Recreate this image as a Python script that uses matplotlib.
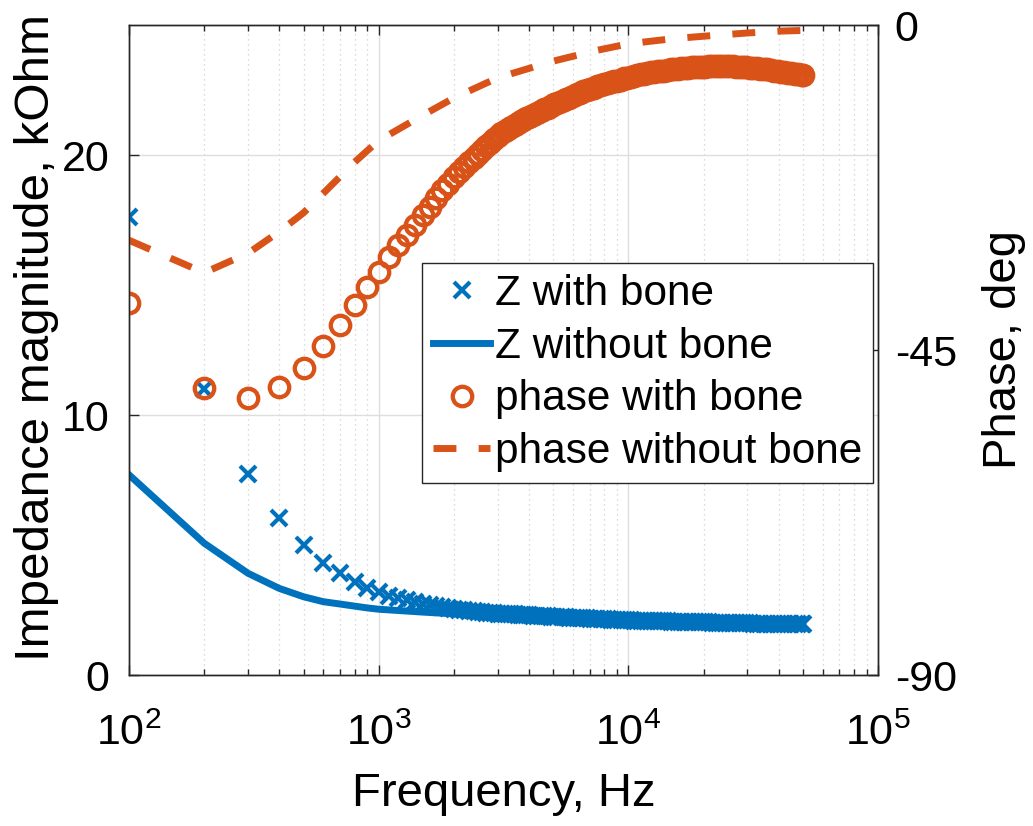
import numpy as np
import matplotlib
matplotlib.use('Agg')
import matplotlib.pyplot as plt
from matplotlib.ticker import LogLocator, NullFormatter

plt.rcParams['font.family'] = ['Liberation Sans', 'DejaVu Sans']
plt.rcParams['mathtext.fontset'] = 'custom'
plt.rcParams['mathtext.rm'] = 'Liberation Sans'
plt.rcParams['axes.unicode_minus'] = False

# measured sweep, with bone (markers)
freq_bone = [100, 200, 300, 400, 500, 600, 700, 800, 900, 1000,
             1100, 1200, 1300, 1400, 1500, 1600, 1700, 1800, 1900, 2000,
             2100, 2200, 2300, 2400, 2500, 2600, 2700, 2800, 2900,
             3000, 3100, 3200, 3300, 3400, 3500, 3600, 3700, 3800, 3900, 4000,
             4150, 4300, 4450, 4600, 4750, 4900,
             5050, 5200, 5400, 5600, 5800,
             6000, 6200, 6400, 6600, 6800, 7000,
             7250, 7500, 7750, 8000, 8250, 8500, 8750, 9000,
             9300, 9600, 9900,
             10200, 10500, 10850, 11200, 11550, 11900,
             12300, 12700, 13100, 13500, 13950, 14400, 14850, 15300,
             15800, 16300, 16800, 17350, 17900, 18500, 19100, 19700,
             20300, 21000, 21700, 22400, 23100, 23800, 24600, 25400,
             26200, 27000, 27900, 28800, 29700,
             30700, 31700, 32700, 33800, 34900, 36000,
             37200, 38400, 39600, 40900, 42200, 43600, 45000, 46500, 48000, 49500, 50000]
z_bone = [17.6, 11.0, 7.73, 6.04, 5.0, 4.3, 3.92, 3.58, 3.35, 3.18,
          3.05, 2.95, 2.87, 2.80, 2.74, 2.69, 2.65, 2.61, 2.57, 2.54,
          2.51, 2.49, 2.47, 2.45, 2.43, 2.41, 2.40, 2.39, 2.37,
          2.36, 2.355, 2.35, 2.34, 2.335, 2.33, 2.32, 2.315, 2.31, 2.30, 2.29,
          2.285, 2.28, 2.27, 2.26, 2.255, 2.25,
          2.24, 2.235, 2.23, 2.22, 2.21,
          2.20, 2.195, 2.19, 2.18, 2.175, 2.17,
          2.16, 2.15, 2.145, 2.14, 2.135, 2.13, 2.125, 2.12,
          2.115, 2.11, 2.10,
          2.10, 2.09, 2.09, 2.085, 2.08, 2.08,
          2.075, 2.07, 2.07, 2.065, 2.06, 2.06, 2.055, 2.05,
          2.05, 2.045, 2.04, 2.04, 2.035, 2.03, 2.03, 2.025,
          2.02, 2.02, 2.015, 2.01, 2.01, 2.005, 2.0, 2.0,
          2.0, 1.995, 1.99, 1.99, 1.99,
          1.985, 1.98, 1.98, 1.98, 1.975, 1.97,
          1.97, 1.97, 1.965, 1.96, 1.96, 1.96, 1.955, 1.955, 1.95, 1.95, 1.95]
phase_bone = [-38.5, -50.2, -51.7, -50.1, -47.5, -44.5, -41.5, -38.8, -36.3, -34.2,
              -32.1, -30.5, -29.1, -27.7, -26.3, -25.2, -24.0, -22.9, -22.0, -21.1,
              -20.4, -19.7, -19.0, -18.4, -17.8, -17.3, -16.8, -16.3, -15.8,
              -15.3, -15.0, -14.7, -14.4, -14.15, -13.9, -13.6, -13.35, -13.1, -12.9, -12.7,
              -12.4, -12.15, -11.9, -11.65, -11.45, -11.2,
              -11.0, -10.8, -10.55, -10.3, -10.05,
              -9.8, -9.6, -9.4, -9.2, -9.05, -8.9,
              -8.7, -8.5, -8.35, -8.2, -8.05, -7.9, -7.8, -7.7,
              -7.55, -7.4, -7.3,
              -7.15, -7.05, -6.95, -6.85, -6.75, -6.65,
              -6.55, -6.5, -6.4, -6.35, -6.3, -6.2, -6.15, -6.1,
              -6.05, -6.0, -5.95, -5.9, -5.87, -5.84, -5.8, -5.78,
              -5.75, -5.73, -5.72, -5.7, -5.7, -5.7, -5.7, -5.71,
              -5.73, -5.76, -5.8, -5.84, -5.88,
              -5.92, -5.96, -6.0, -6.05, -6.1, -6.15,
              -6.22, -6.3, -6.37, -6.45, -6.52, -6.6, -6.67, -6.75, -6.82, -6.88, -6.9]

# without bone (lines)
freq_nobone = [100, 200, 300, 400, 500, 600, 700, 800, 900, 1000, 1500,
               2000, 3000, 5000, 7500, 10000, 15000, 20000, 30000, 40000, 50000]
z_nobone = [7.7, 5.07, 3.91, 3.33, 3.01, 2.82, 2.73, 2.65, 2.58, 2.53, 2.42,
            2.35, 2.27, 2.18, 2.12, 2.08, 2.03, 2.0, 1.97, 1.95, 1.93]
phase_nobone = [-29.8, -34.3, -31.6, -28.6, -26.0, -23.3, -21.0, -19.0, -17.4, -16.0, -12.5,
                -10.1, -7.3, -5.0, -3.5, -2.6, -1.9, -1.55, -1.1, -0.85, -0.75]

blue = '#0072BD'
orange = '#D95319'
axcol = '#262626'

fig = plt.figure(figsize=(10.33, 8.26), dpi=100)
ax = fig.add_axes([0.1249, 0.1828, 0.7251, 0.7869])
ax2 = ax.twinx()

# left axis: impedance
l_nb, = ax.plot(freq_nobone, z_nobone, '-', color=blue, lw=5, zorder=2)
l_b, = ax.plot(freq_bone, z_bone, 'x', color=blue, ms=11, mew=3, ls='none', zorder=3)

# right axis: phase
p_b, = ax2.plot(freq_bone, phase_bone, 'o', color=orange, mfc='none', ms=14, mew=3.1, ls='none')
p_nb, = ax2.plot(freq_nobone, phase_nobone, '--', color=orange, lw=5, dashes=(3.3, 3.2))

ax.set_xscale('log')
ax.set_xlim(1e2, 1e5)
ax.set_ylim(0, 25)
ax2.set_ylim(-90, 0)
ax.set_yticks([0, 10, 20])
ax2.set_yticks([-90, -45, 0])
ax.xaxis.set_minor_locator(LogLocator(base=10, subs=np.arange(2, 10), numticks=20))
ax.xaxis.set_minor_formatter(NullFormatter())

ax.grid(True, which='major', color='#dedede', lw=1.0, ls='-')
ax.grid(True, which='minor', axis='x', color='#cfcfcf', lw=0.9, ls=(0, (1, 3)))
ax.set_axisbelow(True)

ax.tick_params(axis='both', which='major', direction='in', length=7, width=1,
               color=axcol, labelsize=31, labelcolor='black')
ax.tick_params(axis='x', which='both', top=True, direction='in')
ax.tick_params(axis='x', which='minor', length=4, width=1, color=axcol)
ax.tick_params(axis='x', which='major', pad=28)
ax.tick_params(axis='y', pad=14)
ax2.tick_params(axis='y', direction='in', length=7, width=1, color=axcol,
                labelsize=31, labelcolor='black', pad=12)

for a in (ax, ax2):
    for s in a.spines.values():
        s.set_color(axcol)
        s.set_linewidth(1.0)

ax.set_xlabel('Frequency, Hz', fontsize=34, va='center')
ax.xaxis.set_label_coords(0.5, -0.183)
ax.set_ylabel('Impedance magnitude, kOhm', fontsize=35.5, va='center', ha='center')
ax.yaxis.set_label_coords(-0.123, 0.52)
ax2.set_ylabel('Phase, deg', fontsize=34, va='center', ha='center')
ax2.yaxis.set_label_coords(1.168, 0.5)

leg = ax2.legend([l_b, l_nb, p_b, p_nb],
                 ['Z with bone', 'Z without bone', 'phase with bone', 'phase without bone'],
                 loc='upper right', bbox_to_anchor=(0.993, 0.634), borderaxespad=0,
                 fontsize=30.5, handlelength=1.35, handletextpad=0.1, borderpad=0.26,
                 labelspacing=0.3, fancybox=False, framealpha=1, edgecolor=axcol)
leg.get_frame().set_linewidth(1.0)

fig.savefig('out.png', dpi=100)
